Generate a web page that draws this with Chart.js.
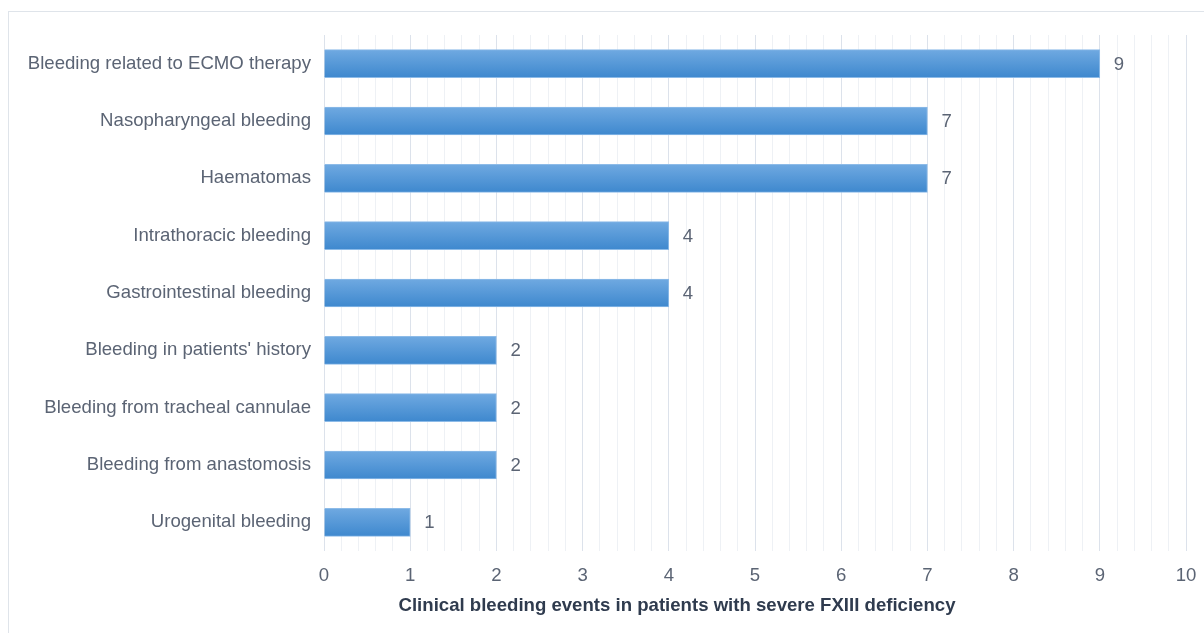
<!DOCTYPE html>
<html>
<head>
<meta charset="utf-8">
<script src="https://cdn.jsdelivr.net/npm/chart.js@4/dist/chart.umd.min.js"></script>
<style>
  html, body { margin: 0; padding: 0; background: #fff; overflow: hidden; }
  #frame {
    position: absolute; left: 8px; top: 11px; width: 1300px; height: 700px;
    border: 1px solid #dfe4ea; box-sizing: border-box;
  }
  #wrap { position: absolute; left: 0; top: 0; width: 1204px; height: 633px; }
</style>
</head>
<body>
<div id="frame"></div>
<div id="wrap"><canvas id="bleeding"></canvas></div>
<script>
const categories = [
  'Bleeding related to ECMO therapy',
  'Nasopharyngeal bleeding',
  'Haematomas',
  'Intrathoracic bleeding',
  'Gastrointestinal bleeding',
  "Bleeding in patients' history",
  'Bleeding from tracheal cannulae',
  'Bleeding from anastomosis',
  'Urogenital bleeding'
];
const events = [9, 7, 7, 4, 4, 2, 2, 2, 1];
const xTicks = [0, 1, 2, 3, 4, 5, 6, 7, 8, 9, 10];
const axisTitle = 'Clinical bleeding events in patients with severe FXIII deficiency';

const FONT = '"Liberation Sans", Arial, Helvetica, sans-serif';
const SIZE = 18.6;
const BAR = 28;

// gradient per bar, light on top, darker at the bottom
function barFill(c) {
  const chart = c.chart;
  const y = chart.scales.y;
  if (!y || !chart.chartArea || c.type !== 'data') return '#4f93d6';
  const mid = y.getPixelForValue(c.dataIndex);
  const g = chart.ctx.createLinearGradient(0, mid - BAR / 2, 0, mid + BAR / 2);
  g.addColorStop(0, '#6fa9e1');
  g.addColorStop(1, '#3e88ce');
  return g;
}

const valueLabels = {
  id: 'valueLabels',
  afterDatasetsDraw(chart) {
    const ctx = chart.ctx;
    const meta = chart.getDatasetMeta(0);
    ctx.save();
    ctx.font = SIZE + 'px ' + FONT;
    ctx.fillStyle = '#5b6474';
    ctx.textAlign = 'left';
    ctx.textBaseline = 'middle';
    meta.data.forEach((bar, i) => {
      ctx.fillText(String(events[i]), bar.x + 14, bar.y + 1);
    });
    ctx.restore();
  }
};

const axisCaption = {
  id: 'axisCaption',
  afterDraw(chart) {
    const ctx = chart.ctx;
    ctx.save();
    ctx.font = 'bold ' + SIZE + 'px ' + FONT;
    ctx.fillStyle = '#2f3b4e';
    ctx.textAlign = 'center';
    ctx.textBaseline = 'middle';
    ctx.fillText(axisTitle, 677, 606);
    ctx.restore();
  }
};

new Chart(document.getElementById('bleeding'), {
  type: 'bar',
  data: {
    labels: categories,
    datasets: [{
      data: events,
      backgroundColor: barFill,
      borderColor: '#8dbbe8',
      borderWidth: 1,
      barThickness: BAR,
      categoryPercentage: 1
    }]
  },
  options: {
    indexAxis: 'y',
    responsive: true,
    maintainAspectRatio: false,
    animation: false,
    layout: { padding: { top: 35, right: 18, bottom: 0, left: 0 } },
    plugins: {
      legend: { display: false },
      tooltip: { enabled: false }
    },
    scales: {
      x: {
        min: 0,
        max: 10,
        border: { display: false },
        grid: {
          drawTicks: false,
          color: (c) => Number.isInteger(Math.round(c.tick.value * 1000) / 1000) ? '#dce2eb' : '#eef1f5'
        },
        ticks: {
          stepSize: 0.2,
          autoSkip: false,
          maxRotation: 0,
          padding: 14,
          color: '#5b6474',
          font: { family: FONT, size: SIZE },
          callback: (v) => {
            const r = Math.round(v * 1000) / 1000;
            return xTicks.includes(r) ? String(r) : '';
          }
        },
        afterFit: (s) => { s.height = 82; s.paddingRight = 0; s.paddingLeft = 0; }
      },
      y: {
        border: { display: false },
        grid: { display: false, drawTicks: false },
        ticks: {
          padding: 13,
          color: '#5b6474',
          font: { family: FONT, size: SIZE }
        },
        afterFit: (s) => { s.width = 324; }
      }
    }
  },
  plugins: [valueLabels, axisCaption]
});
</script>
</body>
</html>
